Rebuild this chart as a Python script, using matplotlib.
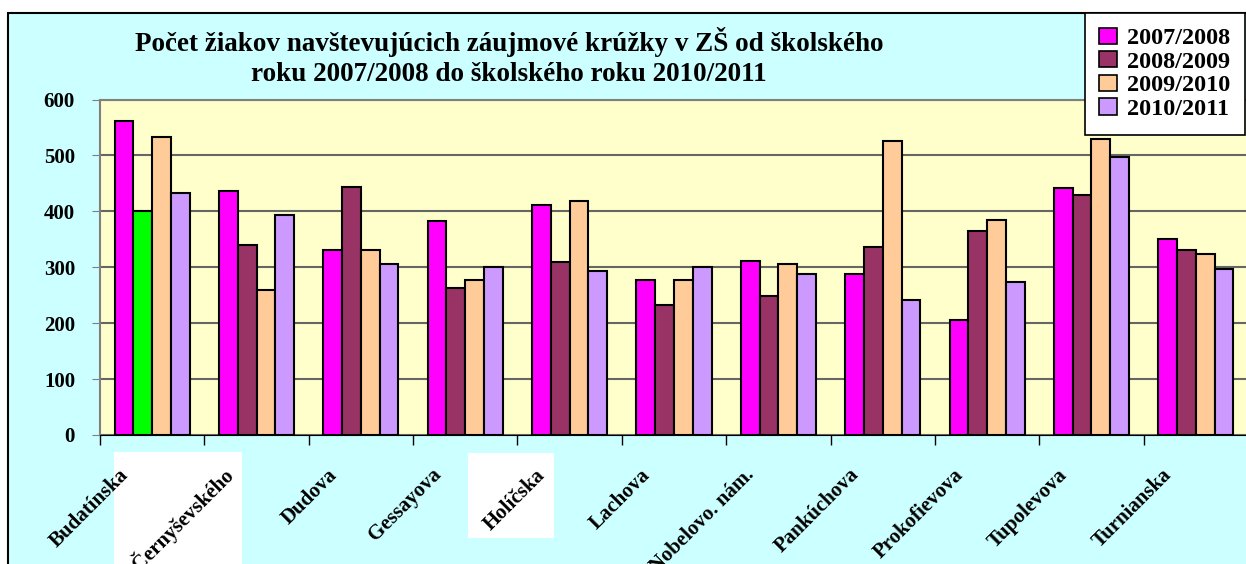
import numpy as np
import matplotlib.pyplot as plt
from matplotlib.patches import Rectangle, Patch

skoly = ['Budatínska', 'Černyševského', 'Dudova', 'Gessayova', 'Holíčska', 'Lachova',
         'Nobelovo. nám.', 'Pankúchova', 'Prokofievova', 'Tupolevova', 'Turnianska']
roky = ['2007/2008', '2008/2009', '2009/2010', '2010/2011']
r2007 = [561, 437, 330, 382, 412, 278, 312, 288, 206, 442, 351]
r2008 = [400, 339, 443, 263, 309, 233, 248, 336, 364, 430, 330]
r2009 = [533, 260, 330, 278, 418, 278, 306, 525, 385, 530, 324]
r2010 = [433, 394, 306, 300, 294, 300, 288, 242, 273, 498, 296]
y_ticky = [0, 100, 200, 300, 400, 500, 600]

farby = ['#FF00FF', '#993366', '#FFCC99', '#CC99FF']
zvyraznena = '#00FF00'  # Budatínska 2008/2009

W, H = 1246, 564
fig = plt.figure(figsize=(W / 100, H / 100), dpi=100, facecolor='white')
fig.add_artist(Rectangle((8 / W, -0.1), 1.2, 1.1 - 13 / H, transform=fig.transFigure,
                         facecolor='#CCFFFF', edgecolor='black', linewidth=1.5, zorder=0))

ax = fig.add_axes([100 / W, (H - 435) / H, 1148 / W, 335.5 / H])
ax.set_facecolor('#FFFFCC')

serif = ['Liberation Serif', 'DejaVu Serif']
x = np.arange(len(skoly))
sirka = 0.18
serie = [r2007, r2008, r2009, r2010]
for k, hodnoty in enumerate(serie):
    cols = [farby[k]] * len(skoly)
    if k == 1:
        cols[0] = zvyraznena
    ax.bar(x + (k - 1.5) * sirka, hodnoty, width=sirka, color=cols,
           edgecolor='black', linewidth=1.5, zorder=3)

ax.set_xlim(-0.5, len(skoly) - 0.5)
ax.set_ylim(0, 600)
ax.set_yticks(y_ticky)
ax.set_yticklabels([str(v) for v in y_ticky], fontfamily=serif, fontweight='bold', fontsize=15)
ax.tick_params(axis='y', length=6, color='#808080', pad=12)
ax.set_xticks(np.arange(len(skoly) + 1) - 0.5)
ax.set_xticklabels([])
ax.tick_params(axis='x', length=7, color='black', width=1)
ax.yaxis.grid(True, color='#666666', linewidth=1.5, zorder=1)
ax.set_axisbelow(True)
for s in ['top', 'right', 'left']:
    ax.spines[s].set_color('#808080')
    ax.spines[s].set_linewidth(1.5)
ax.spines['bottom'].set_color('black')

popisky = []
for i, nazov in enumerate(skoly):
    t = ax.annotate(nazov, xy=(i - 0.26, 0), xycoords=('data', 'axes fraction'),
                    xytext=(0, -37), textcoords='offset pixels', rotation=45,
                    rotation_mode='anchor', ha='right', va='center',
                    fontfamily=serif, fontweight='bold', fontsize=15, zorder=5,
                    annotation_clip=False)
    popisky.append(t)

fig.text(509 / W, 1 - 57 / H,
         'Počet žiakov navštevujúcich záujmové krúžky v ZŠ od školského\n'
         'roku 2007/2008 do školského roku 2010/2011',
         ha='center', va='center', fontfamily=serif, fontweight='bold',
         fontsize=19.5, linespacing=1.3)

handles = [Patch(facecolor=c, edgecolor='black', linewidth=1.2) for c in farby]
leg = fig.legend(handles, roky, loc='upper right', bbox_to_anchor=(1245 / W, 1 - 13 / H),
                 frameon=True, fancybox=False, edgecolor='black', facecolor='white',
                 framealpha=1, prop={'family': serif, 'weight': 'bold', 'size': 17.5},
                 handlelength=0.75, handleheight=0.65, handletextpad=0.4,
                 labelspacing=0.08, borderpad=0.6, borderaxespad=0)
leg.get_frame().set_linewidth(1.2)

# biele pozadie za dvoma popiskami (ako v originali)
fig.canvas.draw()
for idx in (1, 4):
    bb = popisky[idx].get_window_extent()
    ax.add_patch(Rectangle(((bb.x0 - 12) / W, (bb.y0 - 4) / H), (bb.width + 16) / W,
                           (bb.height + 16) / H, transform=fig.transFigure,
                           facecolor='white', edgecolor='none', zorder=4, clip_on=False))

fig.savefig('out.png', dpi=100, facecolor=fig.get_facecolor())
